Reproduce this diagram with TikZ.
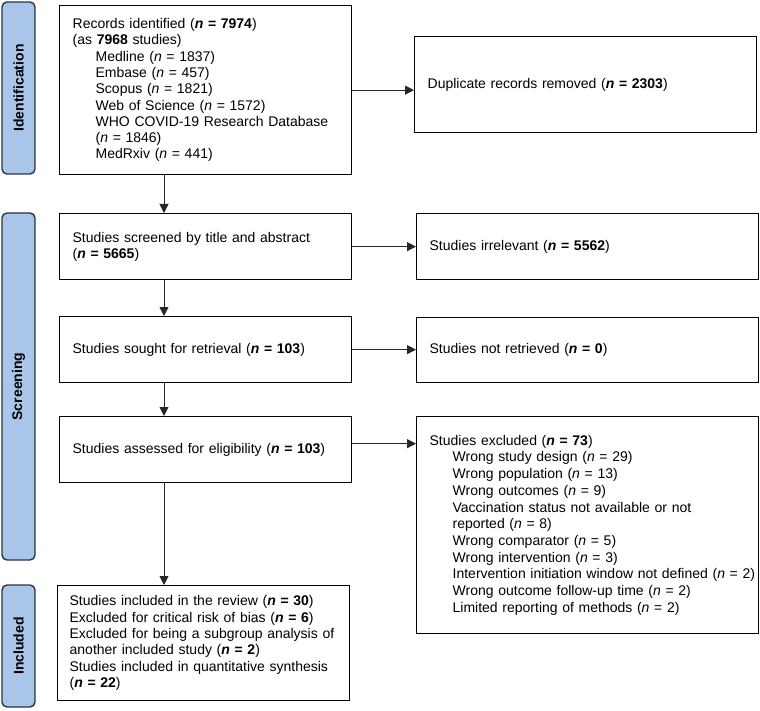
\documentclass[tikz,border=0pt]{standalone}
\usepackage{fontspec}
\setmainfont{Liberation Sans}
\usetikzlibrary{arrows.meta,calc}
\definecolor{sidefill}{HTML}{A9C6EA}
\definecolor{sideline}{HTML}{2A3542}
\newcommand{\ind}{\hspace*{23pt}}
\newcommand{\nb}[1]{\textbf{\textit{n} = #1}}
\newcommand{\nn}[1]{\textit{n} = #1}
\begin{document}
\begin{tikzpicture}[x=1pt,y=-1pt,
  box/.style={draw=black, line width=1.3pt, anchor=north west, inner xsep=13pt, inner ysep=0pt,
    align=left, font=\fontsize{14pt}{16.4pt}\selectfont},
  side/.style={draw=sideline, line width=1.4pt, fill=sidefill, rounded corners=5pt, rotate=90,
    minimum height=33pt, inner sep=0pt, font=\fontsize{14pt}{16pt}\selectfont\bfseries},
  arr/.style={draw=black!85, line width=0.9pt, -{Triangle[width=9pt,length=9pt]}}]
\useasboundingbox (0,0) rectangle (760,711);

% side bars
\node[side, minimum width=172pt] (s1) at (18.5,88) {Identification};
\node[side, minimum width=347pt] (s2) at (18.5,386.5) {Screening};
\node[side, minimum width=122pt] (s3) at (18.5,646) {Included};

% main column
\node[box, minimum width=292pt, minimum height=169pt, text width=266pt,
      font=\fontsize{14pt}{16.3pt}\selectfont] (b1) at (59,5)
 {Records identified (\nb{7974})\\
  (as \textbf{7968} studies)\\
  \ind Medline (\nn{1837})\\
  \ind Embase (\nn{457})\\
  \ind Scopus (\nn{1821})\\
  \ind Web of Science (\nn{1572})\\
  \ind \mbox{WHO COVID-19 Research Database}\\
  \ind (\nn{1846})\\
  \ind MedRxiv (\nn{441})};

\node[box, minimum width=292pt, minimum height=66pt, text width=266pt] (b2) at (59,213)
 {\mbox{Studies screened by title and abstract}\\ (\nb{5665})};

\node[box, minimum width=292pt, minimum height=66pt, text width=266pt] (b3) at (59,316)
 {Studies sought for retrieval (\nb{103})};

\node[box, minimum width=292pt, minimum height=66pt, text width=266pt] (b4) at (59,416)
 {\mbox{Studies assessed for eligibility (\nb{103})}};

\node[box, inner xsep=12pt, minimum width=292pt, minimum height=115pt, text width=268pt] (b5) at (57,585)
 {\mbox{Studies included in the review (\nb{30})}\\
  \mbox{Excluded for critical risk of bias (\nb{6})}\\
  \mbox{Excluded for being a subgroup analysis of}\\
  \mbox{another included study (\nb{2})}\\
  \mbox{Studies included in quantitative synthesis}\\
  (\nb{22})};

% right column
\node[box, minimum width=342pt, minimum height=96pt, text width=316pt] (dup) at (414,36)
 {Duplicate records removed (\nb{2303})};

\node[box, minimum width=342pt, minimum height=66pt, text width=316pt] (irr) at (416,213)
 {Studies irrelevant (\nb{5562})};

\node[box, minimum width=342pt, minimum height=65pt, text width=316pt] (nr) at (416,317)
 {Studies not retrieved (\nb{0})};

\node[box, minimum width=342pt, minimum height=217pt, text width=316pt,
      font=\fontsize{14pt}{16.7pt}\selectfont] (ex) at (416,416)
 {Studies excluded (\nb{73})\\
  \ind Wrong study design (\nn{29})\\
  \ind Wrong population (\nn{13})\\
  \ind Wrong outcomes (\nn{9})\\
  \ind \mbox{Vaccination status not available or not}\\
  \ind reported (\nn{8})\\
  \ind Wrong comparator (\nn{5})\\
  \ind Wrong intervention (\nn{3})\\
  \ind \mbox{Intervention initiation window not defined (\nn{2})}\\
  \ind \mbox{Wrong outcome follow-up time (\nn{2})}\\
  \ind \mbox{Limited reporting of methods (\nn{2})}};

% connectors
\coordinate (sp) at (164,0);
\draw[arr] (b1.south -| sp) -- (b2.north -| sp);
\draw[arr] (b2.south -| sp) -- (b3.north -| sp);
\draw[arr] (b3.south -| sp) -- (b4.north -| sp);
\draw[arr] (b4.south -| sp) -- (b5.north -| sp);

\draw[arr] (b1.east) -- (b1.east -| dup.west);
\draw[arr] (b2.east) -- (b2.east -| irr.west);
\draw[arr] (b3.east) -- (b3.east -| nr.west);
\coordinate (e4) at ([yshift=6pt]b4.east);
\draw[arr] (e4) -- (e4 -| ex.west);
\end{tikzpicture}
\end{document}
